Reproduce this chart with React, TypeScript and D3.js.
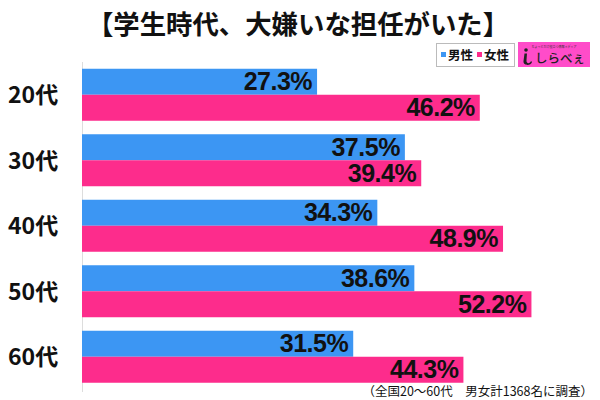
import React from "react";
import * as d3 from "d3";

const categories = ["20代", "30代", "40代", "50代", "60代"];
const seriesNames = ["男性", "女性"];
const maleValues = [27.3, 37.5, 34.3, 38.6, 31.5];
const femaleValues = [46.2, 39.4, 48.9, 52.2, 44.3];
const seriesColors = ["#3c96f3", "#fd2c8c"];
const title = "【学生時代、大嫌いな担任がいた】";
const footnote = "（全国20～60代　男女計1368名に調査）";

const JP = "'Noto Sans CJK JP', 'Noto Sans', sans-serif";
const NUM = "'Liberation Sans', Arial, sans-serif";

export default function App() {
  const W = 600, H = 400;
  const y = d3.scaleBand<string>().domain(categories).range([62, 389.5])
    .paddingInner(13.5 / 65.5).paddingOuter(6.75 / 65.5);
  const ySub = d3.scaleBand<string>().domain(seriesNames).range([0, y.bandwidth()]);
  const x = d3.scaleLinear().domain([0, 60]).range([82, 82 + 60 * 8.61]);
  const data = categories.map((c, i) => ({ c, vals: [maleValues[i], femaleValues[i]] }));

  return (
    <svg width={W} height={H} style={{ position: "absolute", left: 0, top: 0, background: "#fff" }}>
      <rect width={W} height={H} fill="#fff" />
      <text x={298} y={34} textAnchor="middle" fontFamily={JP} fontWeight={700} fontSize={26.4} fill="#111">{title}</text>

      {/* legend */}
      <rect x={436.5} y={43.5} width={78} height={23} fill="#fff" stroke="#bbb" />
      <rect x={441} y={52} width={5} height={5} fill={seriesColors[0]} />
      <text x={448} y={60} fontFamily={JP} fontWeight={700} fontSize={12.5} fill="#111">{seriesNames[0]}</text>
      <rect x={477} y={52} width={5} height={5} fill={seriesColors[1]} />
      <text x={484} y={60} fontFamily={JP} fontWeight={700} fontSize={12.5} fill="#111">{seriesNames[1]}</text>

      {/* logo */}
      <rect x={518} y={42} width={72} height={25} fill="#ff4cc9" />
      <text x={554} y={48} textAnchor="middle" fontFamily={JP} fontSize={3} fill="#333">ちょっとだけ役立つ情報メディア</text>
      <circle cx={526} cy={50} r={1.8} fill="#222" />
      <path d="M524.5,53.5 L527,53.5 L526.5,60 C526,64 530,64 531,61 L532,62 C531,66 523,66 523.5,61 Z" fill="#222" />
      <text x={535} y={63} fontFamily={JP} fontWeight={500} fontSize={12.5} fill="#222">しらべぇ</text>

      {/* axis line */}
      <line x1={82.5} x2={82.5} y1={62} y2={392} stroke="#ddd" strokeWidth={1} />

      {data.map((d) => (
        <g key={d.c}>
          <text x={8} y={(y(d.c) as number) + y.bandwidth() / 2 + 8.5} fontFamily={JP} fontWeight={700} fontSize={23} fill="#111">{d.c}</text>
          {d.vals.map((v, j) => {
            const by = (y(d.c) as number) + (ySub(seriesNames[j]) as number);
            const bh = ySub.bandwidth();
            return (
              <g key={j}>
                <rect x={x(0)} y={by} width={x(v) - x(0)} height={bh} fill={seriesColors[j]} />
                <text x={x(v) - 5} y={by + bh / 2 + 8.5} textAnchor="end" fontFamily={NUM} fontWeight={700}
                  fontSize={25} letterSpacing={-0.5} fill="#111">{v.toFixed(1)}%</text>
              </g>
            );
          })}
        </g>
      ))}

      <text x={593} y={396} textAnchor="end" fontFamily={JP} fontSize={12.5} fill="#111">{footnote}</text>
    </svg>
  );
}
